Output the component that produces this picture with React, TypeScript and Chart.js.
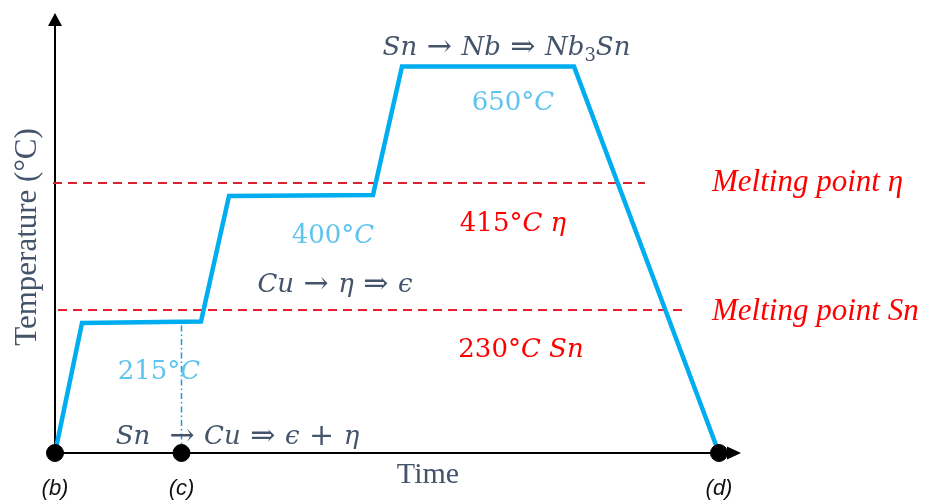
import React, { useEffect, useRef } from 'react';
import { Chart, registerables } from 'chart.js';

Chart.register(...registerables);

// Schematic time / temperature values (arbitrary schematic units)
const profileTime = [0, 27, 146, 174, 318, 347, 519, 664];
const profileTemp = [0, 130, 131.5, 257, 258, 386.5, 386.5, 0];
const meltEtaTime = [-2, 590];
const meltEtaLevel = [270, 270];
const meltSnTime = [3, 632];
const meltSnLevel = [143, 143];
const guideTime = [126.5, 126.5];
const guideTemp = [0, 130];
const markerTime = [0, 126.5, 664];
const markerTemp = [0, 0, 0];
const markerLabels = ['(b)', '(c)', '(d)'];
const xMax = 686;
const yMax = 440;

type Run = { t: string; i?: boolean; sub?: boolean; op?: boolean };
type Note = { runs: Run[]; x: number; y: number; color: string; size: number; align?: 'left' | 'center'; family?: string; rot?: number };

const SLATE = '#44546A';
const LBLUE = '#5EC4EF';
const RED = '#FF0000';
const SERIF = '"Liberation Serif", "DejaVu Serif", serif';
const MATH = '"DejaVu Serif", serif';

const notes: Note[] = [
  { runs: [{ t: 'Sn', i: true }, { t: ' → ', op: true }, { t: 'Nb', i: true }, { t: ' ⇒ ', op: true }, { t: 'Nb', i: true }, { t: '3', sub: true }, { t: 'Sn', i: true }], x: 451.5, y: 405, color: SLATE, size: 26, family: MATH },
  { runs: [{ t: '650°' }, { t: 'C', i: true }], x: 458, y: 349.5, color: LBLUE, size: 26, family: MATH },
  { runs: [{ t: '415°' }, { t: 'C', i: true }, { t: ' η', i: true }], x: 458, y: 229, color: RED, size: 26, family: MATH },
  { runs: [{ t: '400°' }, { t: 'C', i: true }], x: 278, y: 217, color: LBLUE, size: 26, family: MATH },
  { runs: [{ t: 'Cu', i: true }, { t: ' → ', op: true }, { t: 'η', i: true }, { t: ' ⇒ ', op: true }, { t: 'ϵ', i: true }], x: 280, y: 168, color: SLATE, size: 26, family: MATH },
  { runs: [{ t: '230°' }, { t: 'C Sn', i: true }], x: 466, y: 103, color: RED, size: 26, family: MATH },
  { runs: [{ t: '215°' }, { t: 'C', i: true }], x: 104, y: 80.5, color: LBLUE, size: 26, family: MATH },
  { runs: [{ t: 'Sn', i: true }, { t: '  → ', op: true }, { t: 'Cu', i: true }, { t: ' ⇒ ', op: true }, { t: 'ϵ', i: true }, { t: ' + ', op: true }, { t: 'η', i: true }], x: 182.5, y: 15.5, color: SLATE, size: 26, family: MATH },
  { runs: [{ t: 'Melting point η', i: true }], x: 657, y: 270, color: RED, size: 31, align: 'left' },
  { runs: [{ t: 'Melting point Sn', i: true }], x: 657, y: 141, color: RED, size: 31, align: 'left' },
  { runs: [{ t: 'Temperature (°C)' }], x: -27, y: 216, color: SLATE, size: 31, rot: -Math.PI / 2 },
  { runs: [{ t: 'Time' }], x: 373, y: -22, color: SLATE, size: 30 },
];

function fontFor(r: Run, size: number, family: string) {
  let s = size;
  if (r.sub) s = Math.round(size * 0.7);
  if (r.op) s = Math.round(size * 1.15);
  return `${r.i ? 'italic ' : ''}${s}px ${family}`;
}

function drawRuns(ctx: CanvasRenderingContext2D, n: Note, px: number, py: number) {
  const family = n.family || SERIF;
  ctx.save();
  ctx.translate(px, py);
  if (n.rot) ctx.rotate(n.rot);
  ctx.fillStyle = n.color;
  ctx.textBaseline = 'middle';
  ctx.textAlign = 'left';
  let total = 0;
  const widths = n.runs.map((r) => {
    ctx.font = fontFor(r, n.size, family);
    const w = ctx.measureText(r.t).width;
    total += w;
    return w;
  });
  let x = n.align === 'left' ? 0 : -total / 2;
  n.runs.forEach((r, k) => {
    ctx.font = fontFor(r, n.size, family);
    ctx.fillText(r.t, x, r.sub ? n.size * 0.32 : 0);
    x += widths[k];
  });
  ctx.restore();
}

const overlay = {
  id: 'overlay',
  beforeDatasetsDraw(chart: any) {
    const { ctx, chartArea } = chart;
    const { left, right, top, bottom } = chartArea;
    ctx.save();
    ctx.strokeStyle = '#000';
    ctx.fillStyle = '#000';
    ctx.lineWidth = 2;
    ctx.beginPath();
    ctx.moveTo(left, bottom);
    ctx.lineTo(left, top + 10);
    ctx.moveTo(left, bottom);
    ctx.lineTo(right - 10, bottom);
    ctx.stroke();
    ctx.beginPath();
    ctx.moveTo(left, top);
    ctx.lineTo(left - 7, top + 13);
    ctx.lineTo(left + 7, top + 13);
    ctx.closePath();
    ctx.fill();
    ctx.beginPath();
    ctx.moveTo(right, bottom);
    ctx.lineTo(right - 14, bottom - 6.5);
    ctx.lineTo(right - 14, bottom + 6.5);
    ctx.closePath();
    ctx.fill();
    ctx.restore();
  },
  afterDatasetsDraw(chart: any) {
    const { ctx } = chart;
    const xs = chart.scales.x;
    const ys = chart.scales.y;
    notes.forEach((n) => drawRuns(ctx, n, xs.getPixelForValue(n.x), ys.getPixelForValue(n.y)));
    markerLabels.forEach((lab, k) => {
      drawRuns(ctx, { runs: [{ t: lab, i: true }], x: 0, y: 0, color: '#111', size: 22, family: '"Liberation Sans", Arial, sans-serif' },
        xs.getPixelForValue(markerTime[k]), ys.getPixelForValue(-36));
    });
  },
};

const pts = (xs: number[], ys: number[]) => xs.map((x, k) => ({ x, y: ys[k] }));

export default function App() {
  const ref = useRef<HTMLCanvasElement>(null);
  useEffect(() => {
    if (!ref.current) return;
    const chart = new Chart(ref.current, {
      type: 'scatter',
      data: {
        datasets: [
          { label: 'markers', data: pts(markerTime, markerTemp), pointRadius: 8.5, pointBackgroundColor: '#000', pointBorderColor: '#000', showLine: false, clip: false } as any,
          { label: 'profile', data: pts(profileTime, profileTemp), showLine: true, borderColor: '#00AEEF', borderWidth: 4.5, pointRadius: 0, borderJoinStyle: 'miter', clip: false } as any,
          { label: 'guide', data: pts(guideTime, guideTemp), showLine: true, borderColor: '#1C9BD8', borderWidth: 1.5, borderDash: [6, 3, 1.5, 3], pointRadius: 0, clip: false } as any,
          { label: 'melt eta', data: pts(meltEtaTime, meltEtaLevel), showLine: true, borderColor: '#D9232E', borderWidth: 1.8, borderDash: [9, 6], pointRadius: 0, clip: false } as any,
          { label: 'melt Sn', data: pts(meltSnTime, meltSnLevel), showLine: true, borderColor: '#E8202E', borderWidth: 1.8, borderDash: [9, 6], pointRadius: 0, clip: false } as any,
        ],
      },
      options: {
        animation: false,
        responsive: true,
        maintainAspectRatio: false,
        layout: { padding: { left: 55, right: 186, top: 13, bottom: 49 } },
        plugins: { legend: { display: false }, tooltip: { enabled: false } },
        scales: {
          x: { type: 'linear', min: 0, max: xMax, display: false },
          y: { type: 'linear', min: 0, max: yMax, display: false },
        },
      },
      plugins: [overlay],
    });
    return () => chart.destroy();
  }, []);
  return (
    <div style={{ position: 'absolute', left: 0, top: 0, width: 927, height: 502, background: '#fff' }}>
      <canvas ref={ref} />
    </div>
  );
}
